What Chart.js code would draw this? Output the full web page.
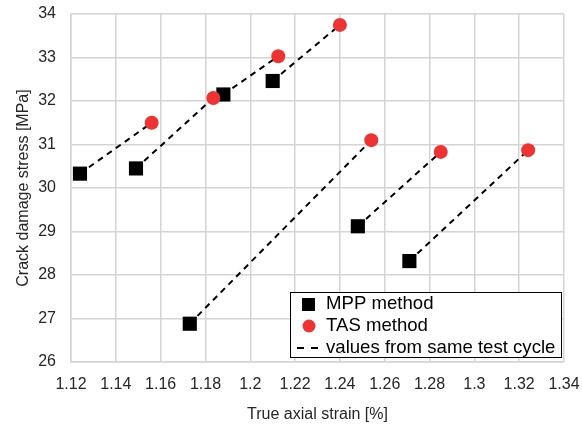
<!DOCTYPE html>
<html>
<head>
<meta charset="utf-8">
<script src="https://cdn.jsdelivr.net/npm/chart.js@4/dist/chart.umd.min.js"></script>
<style>
  html, body { margin: 0; padding: 0; background: #fff; }
  #wrap { width: 582px; height: 424px; }
</style>
</head>
<body>
<div id="wrap"><canvas id="chart" width="582" height="424"></canvas></div>
<script>
// values
const mppStrain = [1.124, 1.149, 1.188, 1.210, 1.173, 1.248, 1.271];
const mppStress = [30.33, 30.45, 32.15, 32.46, 26.88, 29.12, 28.32];
const tasStrain = [1.156, 1.1835, 1.2125, 1.240, 1.254, 1.285, 1.324];
const tasStress = [31.50, 32.07, 33.03, 33.75, 31.10, 30.83, 30.87];

const xTicks = [1.12, 1.14, 1.16, 1.18, 1.2, 1.22, 1.24, 1.26, 1.28, 1.3, 1.32, 1.34];
const yTicks = [26, 27, 28, 29, 30, 31, 32, 33, 34];

const seriesNames = ["MPP method", "TAS method", "values from same test cycle"];

const textColor = "#262626";
const gridColor = "#d4d4d4";
const red = "#ee3333";
const fontFamily = "'Liberation Sans', Arial, sans-serif";

// one dashed segment per test cycle, MPP point -> TAS point
const pairLines = mppStrain.map((x, i) => ({
  type: "line",
  label: i === 0 ? seriesNames[2] : "",
  data: [
    { x: x, y: mppStress[i] },
    { x: tasStrain[i], y: tasStress[i] },
  ],
  borderColor: "#000",
  borderWidth: 2,
  borderDash: [6, 5],
  pointRadius: 0,
  fill: false,
  order: 3,
}));

const boxLegend = {
  id: "boxLegend",
  afterDraw(chart) {
    const ctx = chart.ctx;
    const area = chart.chartArea;
    const w = 271, h = 65;
    const left = Math.round(area.right - w - 3);
    const top = Math.round(area.bottom - h - 5);
    ctx.save();
    ctx.fillStyle = "#fff";
    ctx.fillRect(left, top, w, h);
    ctx.strokeStyle = "#000";
    ctx.lineWidth = 1;
    ctx.strokeRect(left + 0.5, top + 0.5, w, h);

    ctx.font = "18.6px " + fontFamily;
    ctx.textBaseline = "middle";
    const textX = left + 36;
    const rows = [top + 12, top + 34, top + 56];

    // square
    ctx.fillStyle = "#000";
    ctx.fillRect(left + 12, rows[0] - 6, 13, 13);
    ctx.fillText(seriesNames[0], textX, rows[0]);
    // circle
    ctx.fillStyle = red;
    ctx.beginPath();
    ctx.arc(left + 19, rows[1], 6.5, 0, Math.PI * 2);
    ctx.fill();
    ctx.fillStyle = "#000";
    ctx.fillText(seriesNames[1], textX, rows[1]);
    // dashes
    ctx.strokeStyle = "#000";
    ctx.lineWidth = 2;
    ctx.setLineDash([7, 7]);
    ctx.beginPath();
    ctx.moveTo(left + 7, rows[2]);
    ctx.lineTo(left + 29, rows[2]);
    ctx.stroke();
    ctx.setLineDash([]);
    ctx.fillText(seriesNames[2], textX, rows[2]);
    ctx.restore();
  },
};

new Chart(document.getElementById("chart"), {
  type: "scatter",
  data: {
    datasets: [
      ...pairLines,
      {
        label: seriesNames[0],
        data: mppStrain.map((x, i) => ({ x: x, y: mppStress[i] })),
        pointStyle: "rect",
        pointRadius: 10,
        pointHoverRadius: 10,
        backgroundColor: "#000",
        borderColor: "#000",
        borderWidth: 0,
        order: 1,
      },
      {
        label: seriesNames[1],
        data: tasStrain.map((x, i) => ({ x: x, y: tasStress[i] })),
        pointStyle: "circle",
        pointRadius: 7,
        pointHoverRadius: 7,
        backgroundColor: red,
        borderColor: red,
        borderWidth: 0,
        order: 0,
      },
    ],
  },
  options: {
    responsive: false,
    animation: false,
    devicePixelRatio: 1,
    layout: { padding: { top: 14, right: 18, left: 0, bottom: 0 } },
    plugins: {
      legend: { display: false },
      tooltip: { enabled: false },
    },
    scales: {
      x: {
        type: "linear",
        min: 1.12,
        max: 1.34,
        afterBuildTicks: (axis) => {
          axis.ticks = xTicks.map((v) => ({ value: v }));
        },
        afterFit: (axis) => {
          axis.height = 62;
          axis.paddingLeft = 0;
          axis.paddingRight = 0;
        },
        ticks: {
          color: textColor,
          font: { family: fontFamily, size: 16 },
          padding: 13,
          maxRotation: 0,
          autoSkip: false,
          callback: (v) => String(Number(v.toFixed(2))),
        },
        grid: { color: gridColor, lineWidth: 1.5, drawTicks: false },
        border: { color: gridColor, width: 1.5 },
        title: {
          display: true,
          text: "True axial strain [%]",
          color: textColor,
          font: { family: fontFamily, size: 16 },
          padding: { top: 4, bottom: 0 },
        },
      },
      y: {
        type: "linear",
        min: 26,
        max: 34,
        afterBuildTicks: (axis) => {
          axis.ticks = yTicks.map((v) => ({ value: v }));
        },
        afterFit: (axis) => {
          axis.width = 71;
          axis.paddingTop = 0;
          axis.paddingBottom = 0;
        },
        ticks: {
          color: textColor,
          font: { family: fontFamily, size: 16 },
          padding: 15,
        },
        grid: { color: gridColor, lineWidth: 1.5, drawTicks: false },
        border: { color: gridColor, width: 1.5 },
        title: {
          display: true,
          text: "Crack damage stress [MPa]",
          color: textColor,
          font: { family: fontFamily, size: 16 },
          padding: { top: 14, bottom: 4 },
        },
      },
    },
  },
  plugins: [boxLegend],
});
</script>
</body>
</html>
